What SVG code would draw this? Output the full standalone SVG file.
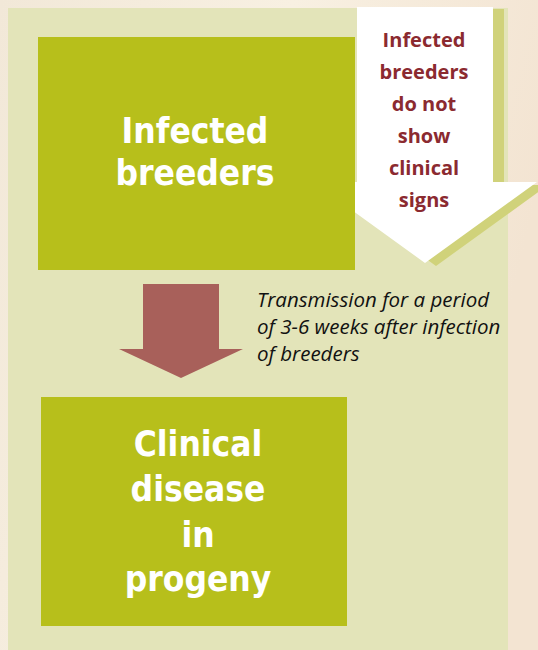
<svg xmlns="http://www.w3.org/2000/svg" width="538" height="650" viewBox="0 0 538 650">
<defs>
<linearGradient id="bg" x1="0" y1="0" x2="1" y2="0.3">
<stop offset="0" stop-color="#f2e8d8"/>
<stop offset="0.5" stop-color="#f8f0e2"/>
<stop offset="1" stop-color="#f3e4d2"/>
</linearGradient>
<style>
.box{fill:#b7bf1b}
.big{font-family:"DejaVu Sans Condensed","DejaVu Sans",sans-serif;font-stretch:condensed;font-weight:bold;font-size:35px;fill:#ffffff;text-anchor:middle}
.red{font-family:"Open Sans","DejaVu Sans",sans-serif;font-weight:bold;font-size:20px;fill:#8b2a30;text-anchor:middle}
.it{font-family:"Open Sans","DejaVu Sans",sans-serif;font-style:italic;font-size:20.5px;fill:#111111}
</style>
</defs>
<rect x="0" y="0" width="538" height="650" fill="url(#bg)"/>
<rect x="8" y="8" width="500" height="642" fill="#e3e4b9"/>
<g id="note">
<polygon points="368,9 504,9 504,185 548,185 436,266 324,185 368,185" fill="#d0d27a"/>
<polygon points="357,7 493,7 493,182 537,182 425,263 313,182 357,182" fill="#ffffff"/>
<text class="red"><tspan x="424" y="47">Infected</tspan><tspan x="424" y="79">breeders</tspan><tspan x="424" y="111">do not</tspan><tspan x="424" y="143">show</tspan><tspan x="424" y="175">clinical</tspan><tspan x="424" y="207">signs</tspan></text>
</g>
<g id="infected">
<rect class="box" x="38" y="37" width="317" height="233"/>
<text class="big"><tspan x="195" y="143">Infected</tspan><tspan x="195" y="185">breeders</tspan></text>
</g>
<g id="connectors">
<polygon points="143,284 219,284 219,349 243,349 181,378 119,349 143,349" fill="#a8605a"/>
<text class="it"><tspan x="257" y="307">Transmission for a period</tspan><tspan x="257" y="334">of 3-6 weeks after infection</tspan><tspan x="257" y="361">of breeders</tspan></text>
</g>
<g id="disease">
<rect class="box" x="41" y="397" width="306" height="229"/>
<text class="big"><tspan x="198" y="456">Clinical</tspan><tspan x="198" y="501">disease</tspan><tspan x="198" y="547">in</tspan><tspan x="198" y="591">progeny</tspan></text>
</g>
</svg>
